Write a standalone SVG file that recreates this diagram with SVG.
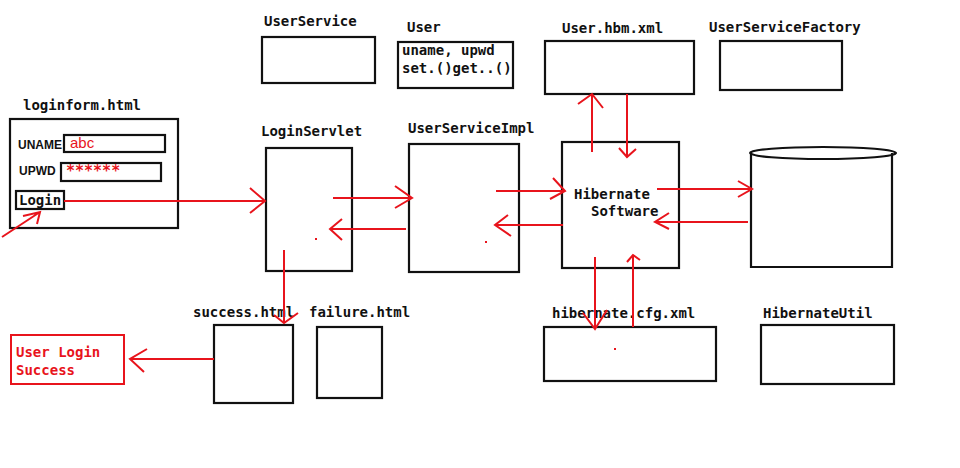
<svg xmlns="http://www.w3.org/2000/svg" width="960" height="468" viewBox="0 0 960 468">
<style>
.box{fill:none;stroke:#111;stroke-width:2.2}
.t{font-family:"DejaVu Sans Mono","Liberation Mono",monospace;font-weight:bold;font-size:14px;fill:#111}
.r{fill:#e8141c}
.s{font-family:"Liberation Sans",Arial,sans-serif;font-weight:bold;font-size:12px;fill:#111}
.ln{fill:none;stroke:#e8141c;stroke-width:2}
</style>
<rect width="960" height="468" fill="#fff"/>
<g id="loginform">
<text class="t" x="23" y="110">loginform.html</text>
<rect class="box" x="10" y="119" width="168" height="109"/>
<text class="s" x="18" y="149">UNAME</text>
<rect class="box" x="64" y="135" width="101" height="17"/>
<text x="70" y="148" style="font-family:'Liberation Sans',Arial,sans-serif;font-size:15px" class="r">abc</text>
<text class="s" x="19" y="175">UPWD</text>
<rect class="box" x="61" y="163" width="100" height="18"/>
<text class="t r" x="66" y="176" style="font-size:15px">******</text>
<rect class="box" x="16" y="191" width="48" height="18"/>
<text class="t" x="19" y="205">Login</text>
</g>
<g id="UserService">
<text class="t" x="264" y="26">UserService</text>
<rect class="box" x="262" y="37" width="113" height="46"/>
</g>
<g id="User">
<text class="t" x="407" y="32">User</text>
<rect class="box" x="398" y="42" width="115" height="46"/>
<text class="t" x="402" y="55">uname, upwd</text>
<text class="t" x="402" y="73">set.()get..()</text>
</g>
<g id="UserHbm">
<text class="t" x="562" y="33">User.hbm.xml</text>
<rect class="box" x="545" y="41" width="149" height="53"/>
</g>
<g id="UserServiceFactory">
<text class="t" x="709" y="32">UserServiceFactory</text>
<rect class="box" x="720" y="41" width="122" height="49"/>
</g>
<g id="LoginServlet">
<text class="t" x="261" y="136">LoginServlet</text>
<rect class="box" x="266" y="148" width="86" height="123"/>
</g>
<g id="UserServiceImpl">
<text class="t" x="408" y="133">UserServiceImpl</text>
<rect class="box" x="409" y="144" width="110" height="128"/>
</g>
<g id="Hibernate">
<rect class="box" x="562" y="142" width="117" height="126"/>
<text class="t" x="574" y="199">Hibernate</text>
<text class="t" x="591" y="216">Software</text>
</g>
<g id="Database">
<path class="box" d="M751,153 L751,267 L892,267 L892,153"/>
<ellipse class="box" cx="823" cy="153" rx="73" ry="6"/>
</g>
<g id="hibernateCfg">
<text class="t" x="552" y="318">hibernate.cfg.xml</text>
<rect class="box" x="544" y="327" width="172" height="54"/>
</g>
<g id="HibernateUtil">
<text class="t" x="763" y="318">HibernateUtil</text>
<rect class="box" x="761" y="325" width="133" height="59"/>
</g>
<g id="success">
<text class="t" x="193" y="317">success.html</text>
<rect class="box" x="214" y="325" width="79" height="78"/>
</g>
<g id="failure">
<text class="t" x="309" y="317">failure.html</text>
<rect class="box" x="317" y="327" width="65" height="71"/>
</g>
<g id="result">
<rect x="11" y="335" width="113" height="49" fill="none" stroke="#e8141c" stroke-width="2"/>
<text class="t r" x="16" y="357">User Login</text>
<text class="t r" x="16" y="375">Success</text>
</g>
<g id="connectors">
<path class="ln" d="M2,237 L40,212 M23,216 L40,212 L37,224"/>
<path class="ln" d="M64,201 L265,201 M250,188 L265,201 L250,213"/>
<path class="ln" d="M333,198 L412,198 M395,186 L412,198 L395,208"/>
<path class="ln" d="M406,229 L330,229 M342,219 L330,229 L342,240"/>
<path class="ln" d="M496,191 L565,191 M553,178 L565,191 L550,199"/>
<path class="ln" d="M563,225 L495,225 M508,215 L495,225 L511,236"/>
<path class="ln" d="M657,189 L752,189 M738,181 L752,189 L738,197"/>
<path class="ln" d="M748,222 L655,222 M669,213 L655,222 L669,229"/>
<path class="ln" d="M592,152 L592,94 M578,104 L592,94 L603,108"/>
<path class="ln" d="M627,94 L627,157 M619,148 L627,157 L636,149"/>
<path class="ln" d="M595,257 L595,329 M583,313 L595,329 L607,310"/>
<path class="ln" d="M633,327 L633,255 M627,262 L633,255 L640,260"/>
<path class="ln" d="M284,250 L284,323 M274,315 L284,323 L298,313"/>
<path class="ln" d="M214,359 L130,359 M147,349 L130,359 L144,372"/>
<rect class="r" x="315" y="238" width="2" height="2"/>
<rect class="r" x="485" y="241" width="2" height="2"/>
<rect class="r" x="614" y="348" width="2" height="2"/>
</g>
</svg>
